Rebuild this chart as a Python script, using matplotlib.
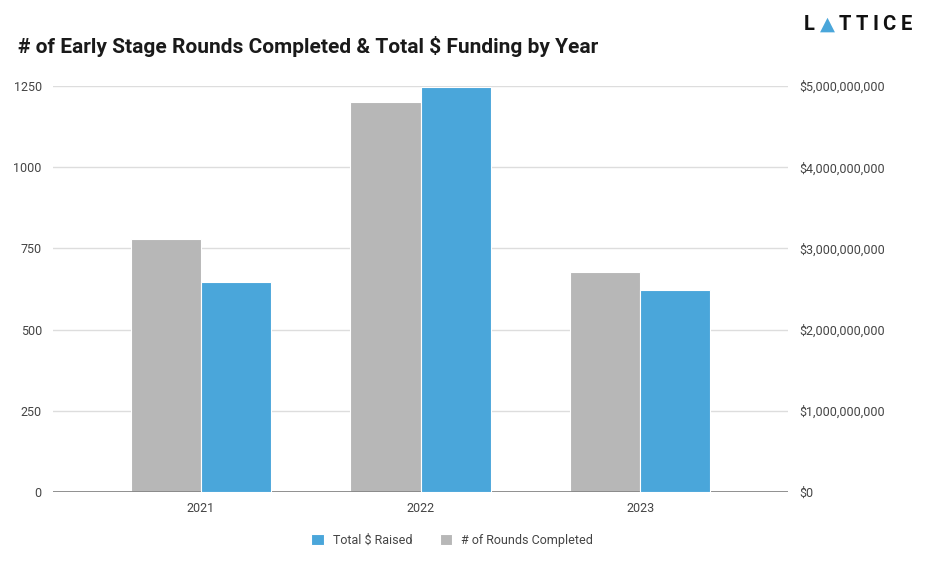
import matplotlib.pyplot as plt
from matplotlib.ticker import FuncFormatter

years = ['2021', '2022', '2023']
rounds_completed = [778, 1200, 677]
total_raised = [2.59e9, 4.99e9, 2.49e9]

left_ticks = [0, 250, 500, 750, 1000, 1250]
right_ticks = [0, 1e9, 2e9, 3e9, 4e9, 5e9]

gray = '#b7b7b7'
blue = '#4aa6da'
label_color = '#444444'

plt.rcParams['font.family'] = ['Roboto', 'DejaVu Sans']

fig = plt.figure(figsize=(9.36, 5.68), dpi=100)
ax = fig.add_axes([0.0566, 0.1338, 0.7854, 0.7148])
ax2 = ax.twinx()

x = list(range(len(years)))
w = 0.32
ax.bar([i - w / 2 for i in x], rounds_completed, width=w, color=gray,
       edgecolor='white', linewidth=0.8, zorder=3, label='# of Rounds Completed')
ax2.bar([i + w / 2 for i in x], total_raised, width=w, color=blue,
        edgecolor='white', linewidth=0.8, zorder=3, label='Total $ Raised')

ax.set_xlim(-0.674, 2.674)
ax.set_ylim(0, 1250)
ax2.set_ylim(0, 5e9)
ax.set_yticks(left_ticks)
ax2.set_yticks(right_ticks)
ax2.yaxis.set_major_formatter(FuncFormatter(lambda v, p: '${:,.0f}'.format(v)))
ax.set_xticks(x)
ax.set_xticklabels(years)

ax.grid(axis='y', color='#dddddd', linewidth=1, zorder=0)
ax.axhline(0, color='#888888', linewidth=1.3, zorder=4)
for a in (ax, ax2):
    for s in a.spines.values():
        s.set_visible(False)
    a.tick_params(length=0, labelsize=9, labelcolor=label_color)
ax.tick_params(axis='y', pad=8)
ax2.tick_params(axis='y', pad=8)
ax.tick_params(axis='x', pad=7)
ax2.set_zorder(ax.get_zorder() + 1)
ax2.patch.set_visible(False)

h1, l1 = ax.get_legend_handles_labels()
h2, l2 = ax2.get_legend_handles_labels()
fig.legend(h2 + h1, l2 + l1, loc='center', bbox_to_anchor=(0.483, 0.049), ncol=2,
           frameon=False, fontsize=9, labelcolor=label_color, handlelength=1.0,
           handleheight=1.0, handletextpad=0.7, columnspacing=2.2)

fig.text(0.019, 0.919, '# of Early Stage Rounds Completed & Total $ Funding by Year',
         fontsize=15, fontweight='bold', color='#1a1a1a', va='center', ha='left')

# logo
logo_letters = ['L', '\u25b2', 'T', 'T', 'I', 'C', 'E']
logo_x = [804, 820, 839, 856, 873, 882, 901]
for ch, px in zip(logo_letters, logo_x):
    col = blue if ch == '\u25b2' else '#111111'
    fam = ['DejaVu Sans'] if ch == '\u25b2' else ['Roboto']
    fs = 14 if ch == '\u25b2' else 14.5
    fig.text(px / 936, 1 - 24 / 568, ch, fontsize=fs, fontweight='bold', color=col,
             family=fam, va='center', ha='left')

fig.savefig('out.png', dpi=100)
